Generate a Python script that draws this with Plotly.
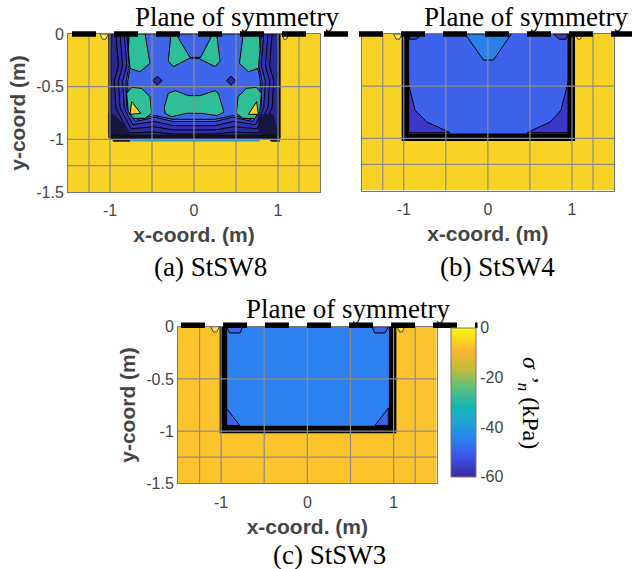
import plotly.graph_objects as go

W, H = 632, 569
SERIF = "Liberation Serif"
SANS = "Liberation Sans"
GRID = "#8c8c8c"
TICK = "#454545"

# ---------- shared mesh and axis values ----------
mesh_x = [-1.25, -1, -0.5, 0, 0.5, 1, 1.25]
mesh_y = [-0.5, -1, -1.25]
x_ticks = [-1, 0, 1]
x_labels = ["-1", "0", "1"]
y_ticks = [0, -0.5, -1, -1.5]
y_labels = ["0", "-0.5", "-1", "-1.5"]
soil_x = [-1.5, 1.5, 1.5, -1.5]
soil_y = [0, 0, -1.5, -1.5]

# ---------- colour bar ----------
cbar_values = [-60, 0]
cbar_ticks = [0, -20, -40, -60]
cbar_labels = ["0", "-20", "-40", "-60"]
cbar_scale = [[0, "#3a2a9a"], [0.13, "#3f50e6"], [0.25, "#2a80ef"], [0.38, "#1fa6d0"],
              [0.47, "#12b5b4"], [0.6, "#5bc07a"], [0.72, "#bfbc3c"], [0.85, "#fdb52f"], [1, "#f8fa10"]]

# ---------- panel a: StSW8 ----------
a_band1_x = [-1.0, 1.02, 1.02, -1.0]
a_band1_y = [0, 0, -1.0, -1.0]
a_band2_x = [-0.93, -0.90, -0.95, -0.93, -0.78, -0.48, -0.25, 0.25, 0.48, 0.78, 0.93, 0.95, 0.90, 0.93]
a_band2_y = [0, -0.3, -0.45, -0.7, -0.94, -0.93, -0.95, -0.95, -0.93, -0.94, -0.7, -0.45, -0.3, 0]
a_band3_x = [-0.88, -0.85, -0.90, -0.88, -0.75, -0.48, -0.25, 0.25, 0.48, 0.75, 0.88, 0.90, 0.85, 0.88]
a_band3_y = [0, -0.3, -0.45, -0.7, -0.90, -0.88, -0.91, -0.91, -0.88, -0.90, -0.7, -0.45, -0.3, 0]
a_band4_x = [-0.83, -0.80, -0.85, -0.83, -0.73, -0.47, -0.25, 0.25, 0.47, 0.73, 0.83, 0.85, 0.80, 0.83]
a_band4_y = [0, -0.3, -0.45, -0.7, -0.86, -0.83, -0.87, -0.87, -0.83, -0.86, -0.7, -0.45, -0.3, 0]
a_light_x = [-0.80, -0.77, -0.81, -0.80, -0.70, -0.46, -0.25, 0.25, 0.46, 0.70, 0.80, 0.81, 0.77, 0.80]
a_light_y = [0, -0.3, -0.45, -0.7, -0.83, -0.79, -0.83, -0.83, -0.79, -0.83, -0.7, -0.45, -0.3, 0]
a_blue_x = [-0.79, -0.755, -0.79, -0.78, -0.68, -0.46, -0.25, 0.25, 0.46, 0.68, 0.78, 0.79, 0.755, 0.79]
a_blue_y = [0, -0.3, -0.45, -0.7, -0.81, -0.775, -0.81, -0.81, -0.775, -0.81, -0.7, -0.45, -0.3, 0]
a_v_x = [-0.274, -0.306, -0.246, -0.056, 0.056, 0.25, 0.31, 0.27, 0.222, 0.08, -0.048, -0.214]
a_v_y = [0, -0.256, -0.31, -0.231, -0.231, -0.31, -0.256, 0, 0, -0.222, -0.222, 0]
a_tl_x = [-0.77, -0.583, -0.524, -0.643, -0.762, -0.782]
a_tl_y = [0, 0, -0.278, -0.358, -0.326, -0.152]
a_tr_x = [0.778, 0.587, 0.54, 0.647, 0.766, 0.786]
a_tr_y = [0, 0, -0.278, -0.358, -0.326, -0.152]
a_bl_x = [-0.802, -0.742, -0.623, -0.524, -0.504, -0.583, -0.722, -0.782]
a_bl_y = [-0.563, -0.506, -0.516, -0.595, -0.753, -0.801, -0.801, -0.737]
a_br_x = [0.802, 0.742, 0.623, 0.524, 0.504, 0.583, 0.722, 0.782]
a_br_y = [-0.563, -0.506, -0.516, -0.595, -0.753, -0.801, -0.801, -0.737]
a_mid_x = [-0.353, -0.306, -0.226, -0.067, 0.071, 0.25, 0.29, 0.357, 0.27, 0.091, -0.087, -0.266, -0.345]
a_mid_y = [-0.69, -0.563, -0.538, -0.585, -0.585, -0.538, -0.563, -0.744, -0.775, -0.753, -0.753, -0.785, -0.753]
a_tri_l_x = [-0.742, -0.635, -0.762]
a_tri_l_y = [-0.642, -0.753, -0.763]
a_tri_r_x = [0.746, 0.647, 0.766]
a_tri_r_y = [-0.642, -0.763, -0.763]
a_dots_x = [-0.436, 0.441]
a_dots_y = [-0.443, -0.443]
a_cor_l_x = [-1.02, -0.94, -0.762, -0.762, -0.96, -1.02]
a_cor_l_y = [-0.753, -0.769, -0.927, -1.022, -1.022, -0.943]
a_cor_r_x = [0.766, 0.944, 1.004, 1.024, 0.925, 0.766]
a_cor_r_y = [-0.769, -0.753, -0.943, -1.022, -1.022, -0.927]
a_strip_x = [-0.77, 0.78, 0.78, -0.77]
a_strip_y = [-0.985, -0.985, -1.02, -1.02]
a_wall_x = [-1.0, -1.0, 1.01, 1.01]
a_wall_y = [0, -0.97, -0.97, 0]
a_dash_x = [-1.452, 1.833]

# ---------- panel b: StSW4 ----------
b_in_x = [-0.98, 0.99, 0.99, -0.98]
b_in_y = [0, 0, -0.98, -0.98]
b_trap_x = [-0.27, -0.052, 0.067, 0.278]
b_trap_y = [0, -0.25, -0.25, 0]
b_cl_x = [-0.956, -0.865, -0.726, -0.448, -0.956]
b_cl_y = [-0.442, -0.731, -0.843, -0.946, -0.946]
b_cr_x = [0.96, 0.869, 0.742, 0.464, 0.96]
b_cr_y = [-0.442, -0.731, -0.843, -0.946, -0.946]
b_tl_x = [-0.95, -0.93, -0.85, -0.78]
b_tl_y = [0, -0.05, -0.05, 0]
b_tr_x = [0.95, 0.93, 0.85, 0.78]
b_tr_y = [0, -0.05, -0.05, 0]
b_wall_x = [-0.98, -0.98, 0.992, 0.992]
b_wall_y = [0, -0.99, -0.99, 0]
b_dash_x = [-1.532, 1.718]

# ---------- panel c: StSW3 ----------
c_in_x = [-0.97, 0.99, 0.99, -0.97]
c_in_y = [0, 0, -0.98, -0.98]
c_cl_x = [-0.94, -0.784, -0.94]
c_cl_y = [-0.779, -0.946, -0.946]
c_cr_x = [0.939, 0.784, 0.939]
c_cr_y = [-0.779, -0.946, -0.946]
c_tl_x = [-0.94, -0.9, -0.78, -0.75]
c_tl_y = [0, -0.06, -0.06, 0]
c_tr_x = [0.94, 0.9, 0.78, 0.75]
c_tr_y = [0, -0.06, -0.06, 0]
c_wall_x = [-0.973, -0.973, 0.989, 0.989]
c_wall_y = [0, -0.984, -0.984, 0]
c_dash_x = [-1.465, 1.973]

# small stress lenses in the soil beside the wall tops
lens_l_x = [-1.12, -1.09, -1.05, -1.02]
lens_r_x = [1.04, 1.07, 1.10, 1.13]
lens_y = [0, -0.05, -0.05, 0]

# ---------- captions ----------
sym_text = "Plane of symmetry"
captions = ["(a) StSW8", "(b) StSW4", "(c) StSW3"]
xlabel = "x-coord. (m)"
ylabel = "y-coord (m)"
cbar_title = "<i>σ ’<sub>n</sub></i> (kPa)"

# pixel frames of the three panels: left, right, top, bottom
frame_a = (68, 320, 34, 192)
frame_b = (361.7, 614, 34, 190.5)
frame_c = (178, 436.7, 326.7, 483.3)

fig = go.Figure()


def poly(ax, xs, ys, color, line="black", lw=1):
    fig.add_trace(go.Scatter(
        x=xs + xs[:1], y=ys + ys[:1], xaxis="x" + ax, yaxis="y" + ax, mode="lines",
        fill="toself", fillcolor=color, line=dict(color=line, width=lw if line else 0),
        showlegend=False, hoverinfo="skip"))


def line(ax, xs, ys, color, lw):
    fig.add_trace(go.Scatter(
        x=xs, y=ys, xaxis="x" + ax, yaxis="y" + ax, mode="lines",
        line=dict(color=color, width=lw), showlegend=False, hoverinfo="skip"))


def mesh(ax):
    xs, ys = [], []
    for v in mesh_x:
        xs += [v, v, None]
        ys += [soil_y[0], soil_y[2], None]
    for v in mesh_y:
        xs += [soil_x[0], soil_x[1], None]
        ys += [v, v, None]
    line(ax, xs, ys, GRID, 1.2)


def symmetry_dashes(frame, xs, y_offset=0):
    # the dashed plane of symmetry runs past the axes, so it is placed on the page
    l, r, t, _ = frame
    to_page = lambda v: (l + (v + 1.5) / 3 * (r - l)) / W
    return dict(type="line", xref="paper", yref="paper", x0=to_page(xs[0]), x1=to_page(xs[1]),
                y0=1 - (t + y_offset) / H, y1=1 - (t + y_offset) / H, layer="above",
                line=dict(color="black", width=5.5, dash="24px,18px"))


# hidden carrier for the colour bar
fig.add_trace(go.Scatter(
    x=[0, 0], y=[-0.5, -0.5], xaxis="x3", yaxis="y3", mode="markers", showlegend=False,
    hoverinfo="skip",
    marker=dict(size=1, color=cbar_values, cmin=-60, cmax=0, colorscale=cbar_scale, showscale=True,
                colorbar=dict(
                    x=450.7 / W, xanchor="left", xpad=0, y=1 - 327.7 / H, yanchor="top", ypad=0,
                    len=149 / H, lenmode="fraction", thickness=25, thicknessmode="pixels",
                    tickmode="array", tickvals=cbar_ticks, ticktext=cbar_labels, ticks="",
                    tickfont=dict(family=SANS, size=16, color=TICK),
                    outlinecolor="#777777", outlinewidth=1))))

# panel a
SOIL_A, SOIL_C = "#f8d325", "#fdc32d"
poly("", soil_x, soil_y, SOIL_A, None)
poly("", lens_l_x, lens_y, "#fbe94a", "#444444")
poly("", lens_r_x, lens_y, "#fbe94a", "#444444")
poly("", a_strip_x, a_strip_y, "#2f9cc0", None)
poly("", a_band1_x, a_band1_y, "#2a2890")
poly("", a_band2_x, a_band2_y, "#2e2ca0")
poly("", a_band3_x, a_band3_y, "#3231b4")
poly("", a_band4_x, a_band4_y, "#3640c8")
poly("", a_light_x, a_light_y, "#2e7ce8")
poly("", a_blue_x, a_blue_y, "#3f66ea")
for xs, ys in [(a_v_x, a_v_y), (a_tl_x, a_tl_y), (a_tr_x, a_tr_y), (a_bl_x, a_bl_y),
               (a_br_x, a_br_y), (a_mid_x, a_mid_y)]:
    poly("", xs, ys, "#2fbf98")
poly("", a_tri_l_x, a_tri_l_y, "#f8cf28")
poly("", a_tri_r_x, a_tri_r_y, "#f8cf28")
poly("", a_cor_l_x, a_cor_l_y, "#17163f", None)
poly("", a_cor_r_x, a_cor_r_y, "#17163f", None)
fig.add_trace(go.Scatter(x=a_dots_x, y=a_dots_y, mode="markers", showlegend=False, hoverinfo="skip",
                         marker=dict(symbol="diamond", size=7, color="#2c2a9c", line=dict(color="black", width=1))))
line("", a_wall_x, a_wall_y, "#111111", 3.5)
mesh("")

# panel b
poly("2", soil_x, soil_y, SOIL_A, None)
poly("2", lens_l_x, lens_y, "#fbe94a", "#444444")
poly("2", lens_r_x, lens_y, "#fbe94a", "#444444")
poly("2", b_in_x, b_in_y, "#3f62ec", None)
poly("2", b_trap_x, b_trap_y, "#2a80ea")
poly("2", b_cl_x, b_cl_y, "#3b38c8")
poly("2", b_cr_x, b_cr_y, "#3b38c8")
poly("2", b_tl_x, b_tl_y, "#3b38c8")
poly("2", b_tr_x, b_tr_y, "#3b38c8")
line("2", b_wall_x, b_wall_y, "black", 7.5)
mesh("2")

# panel c
poly("3", soil_x, soil_y, SOIL_C, None)
poly("3", lens_l_x, lens_y, "#fbe94a", "#444444")
poly("3", lens_r_x, lens_y, "#fbe94a", "#444444")
poly("3", c_in_x, c_in_y, "#2b82f0", None)
poly("3", c_cl_x, c_cl_y, "#3f62ec")
poly("3", c_cr_x, c_cr_y, "#3f62ec")
poly("3", c_tl_x, c_tl_y, "#3f62ec")
poly("3", c_tr_x, c_tr_y, "#3f62ec")
line("3", c_wall_x, c_wall_y, "black", 7.5)
mesh("3")


def xaxis(frame, anchor):
    return dict(domain=[frame[0] / W, frame[1] / W], range=[-1.5, 1.5], anchor=anchor, tickmode="array",
                tickvals=x_ticks, ticktext=x_labels, ticks="", showgrid=False, zeroline=False,
                showline=True, mirror=True, linecolor="#777777", linewidth=1, ticklabelstandoff=4,
                tickfont=dict(family=SANS, size=16, color=TICK),
                title=dict(text="<b>" + xlabel + "</b>", standoff=9,
                           font=dict(family=SANS, size=21, color=TICK)))


def yaxis(frame, anchor, titled=True):
    d = dict(domain=[1 - frame[3] / H, 1 - frame[2] / H], range=[-1.5, 0], anchor=anchor, tickmode="array",
             tickvals=y_ticks, ticktext=y_labels, showticklabels=titled, ticks="", showgrid=False,
             zeroline=False, showline=True, mirror=True, linecolor="#777777", linewidth=1,
             tickfont=dict(family=SANS, size=16, color=TICK))
    if titled:
        d["title"] = dict(text="<b>" + ylabel + "</b>", standoff=4,
                          font=dict(family=SANS, size=21, color=TICK))
    return d


def note(text, px, py, angle=0, size=27):
    return dict(text=text, x=px / W, y=1 - py / H, xref="paper", yref="paper", showarrow=False,
                xanchor="center", yanchor="middle", textangle=angle,
                font=dict(family=SERIF, size=size, color="black"))


fig.update_layout(
    width=W, height=H, margin=dict(l=0, r=0, t=0, b=0, autoexpand=False),
    paper_bgcolor="white", plot_bgcolor="white",
    xaxis=xaxis(frame_a, "y"), yaxis=yaxis(frame_a, "x"),
    xaxis2=xaxis(frame_b, "y2"), yaxis2=yaxis(frame_b, "x2", False),
    xaxis3=xaxis(frame_c, "y3"), yaxis3=yaxis(frame_c, "x3"),
    shapes=[symmetry_dashes(frame_a, a_dash_x), symmetry_dashes(frame_b, b_dash_x),
            symmetry_dashes(frame_c, c_dash_x, -1.5)],
    annotations=[note(sym_text, 237, 17), note(sym_text, 526, 17), note(sym_text, 348, 309),
                 note(captions[0], 210, 267), note(captions[1], 497, 267), note(captions[2], 329, 555),
                 note(cbar_title, 529, 403, angle=90, size=24)],
)

fig.write_html("out.html", config=dict(displayModeBar=False),
               post_script="document.body.style.margin='0';document.body.style.overflow='hidden';")
